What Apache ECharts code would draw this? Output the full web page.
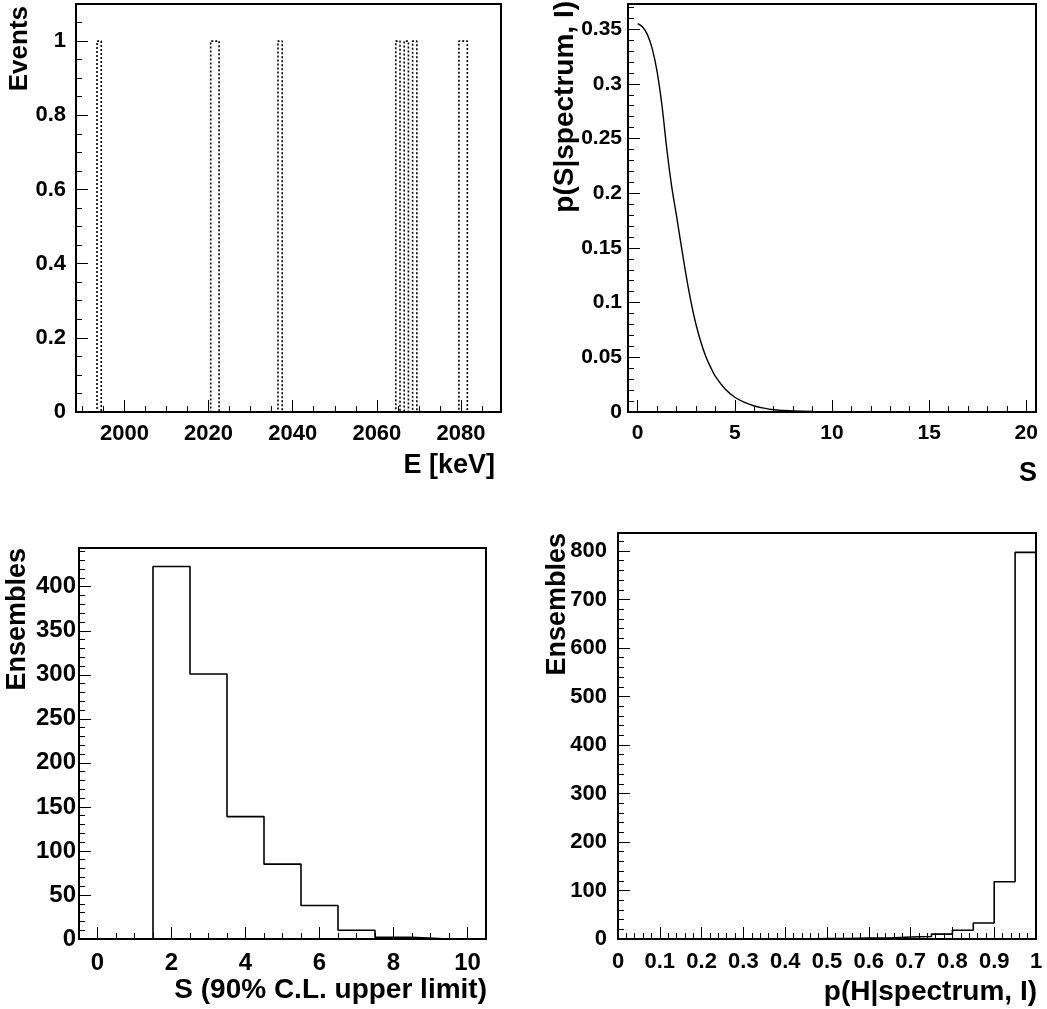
<!DOCTYPE html>
<html><head><meta charset="utf-8">
<script src="https://cdn.jsdelivr.net/npm/echarts@6/dist/echarts.min.js"></script>
<style>html,body{margin:0;padding:0;background:#fff}#c{width:1047px;height:1009px}</style>
</head><body><div id="c"></div>
<script>
// ---------- Panel 1: observed spectrum (1 keV bins) ----------
const energyMin = 1988.5;
const energyMax = 2089.5;
const energyBinWidth = 1;
const eventEnergies = [1994, 2021, 2022, 2037, 2065, 2067, 2069, 2080, 2081];

// ---------- Panel 2: posterior p(S|spectrum, I) ----------
const posteriorS = [0, 0.25, 0.5, 0.75, 1.0, 1.25, 1.5, 1.75, 2.0, 2.25, 2.5, 2.75, 3.0, 3.25, 3.5, 3.75, 4.0, 4.5, 5.0, 5.5, 6.0, 6.5, 7.0, 7.5, 8.0, 9.0, 10, 11, 12, 14, 17, 20];
const posteriorP = [0.355, 0.352, 0.345, 0.332, 0.311, 0.280, 0.240, 0.206, 0.179, 0.151, 0.124, 0.100, 0.080, 0.064, 0.051, 0.041, 0.0325, 0.021, 0.0135, 0.0087, 0.0055, 0.0035, 0.0021, 0.0014, 0.0009, 0.0004, 0.00015, 0.00005, 0.00002, 0, 0, 0];

// ---------- Panel 3: 90% C.L. upper limit distribution ----------
const ulBinCenters = [0, 1, 2, 3, 4, 5, 6, 7, 8, 9, 10];
const ulCounts = [0, 0, 423, 301, 139, 85, 38, 10, 2, 0, 0];

// ---------- Panel 4: p(H|spectrum, I) distribution ----------
const pHBinLowEdges = [0, 0.05, 0.1, 0.15, 0.2, 0.25, 0.3, 0.35, 0.4, 0.45, 0.5, 0.55, 0.6, 0.65, 0.7, 0.75, 0.8, 0.85, 0.9, 0.95];
const pHCounts = [0, 0, 0, 0, 0, 0, 0, 0, 0, 1, 1, 2, 2, 4, 5, 10, 18, 33, 118, 797];

// Axis titles
const titles = {
  p1x: 'E [keV]', p1y: 'Events',
  p2x: 'S', p2y: 'p(S|spectrum, I)',
  p3x: 'S (90% C.L. upper limit)', p3y: 'Ensembles',
  p4x: 'p(H|spectrum, I)', p4y: 'Ensembles'
};

// ---------- helpers ----------
function stepOutline(lows, width, counts) {
  const pts = [];
  for (let i = 0; i < lows.length; i++) {
    pts.push([lows[i], counts[i]]);
    pts.push([lows[i] + width, counts[i]]);
  }
  return pts;
}
const energyLows = [], energyCounts = [];
for (let e = energyMin; e < energyMax - 1e-9; e += energyBinWidth) {
  energyLows.push(e);
  energyCounts.push(eventEnergies.filter(v => v >= e && v < e + energyBinWidth).length);
}
const ulLows = ulBinCenters.map(c => c - 0.5);

const FONT = '"Liberation Sans", Arial, Helvetica, sans-serif';
const grids = [
  {left: 76, top: 4, width: 425, height: 408},
  {left: 628, top: 4, width: 408, height: 408},
  {left: 79, top: 548, width: 407, height: 391},
  {left: 618, top: 533, width: 418, height: 406}
];
const axCfg = [
  {x: [energyMin, energyMax, 20, 5], y: [0, 1.1, 0.2, 0.05], xMinL: false, xMaxL: false, xm: 11, ym: 10, fs: 22},
  {x: [-0.5, 20.5, 5, 1], y: [0, 0.373, 0.05, 0.01], xMinL: false, xMaxL: false, xm: 11, ym: 6, fs: 21},
  {x: [-0.5, 10.5, 2, 0.5], y: [0, 444, 50, 10], xMinL: false, xMaxL: false, xm: 12, ym: 3, fs: 24},
  {x: [0, 1, 0.1, 0.02], y: [0, 837, 100, 20], xMinL: true, xMaxL: true, xm: 12, ym: 11, fs: 22}
];
const fmt = v => String(+(+v).toFixed(6));
const xAxes = [], yAxes = [];
axCfg.forEach((c, g) => {
  const lbl = (m, showMin, showMax) => ({show: true, margin: m, color: '#000', fontSize: c.fs, fontWeight: 'bold', fontFamily: FONT, showMinLabel: showMin, showMaxLabel: showMax, formatter: fmt});
  xAxes.push({type: 'value', gridIndex: g, position: 'bottom', min: c.x[0], max: c.x[1], minInterval: c.x[2], maxInterval: c.x[2], splitNumber: Math.round((c.x[1]-c.x[0])/c.x[2]),
    axisLine: {show: true, onZero: false, lineStyle: {color: '#000', width: 2}},
    axisTick: {show: true, inside: true, length: 12, lineStyle: {color: '#000', width: 1}},
    axisLabel: lbl(c.xm, c.xMinL, c.xMaxL), splitLine: {show: false}});
  xAxes.push({type: 'value', gridIndex: g, position: 'bottom', min: c.x[0], max: c.x[1], minInterval: c.x[3], maxInterval: c.x[3], splitNumber: Math.round((c.x[1]-c.x[0])/c.x[3]),
    axisLine: {show: false, onZero: false},
    axisTick: {show: true, inside: true, length: 6, lineStyle: {color: '#000', width: 1}},
    axisLabel: {show: false}, splitLine: {show: false}});
  yAxes.push({type: 'value', gridIndex: g, position: 'left', min: c.y[0], max: c.y[1], minInterval: c.y[2], maxInterval: c.y[2], splitNumber: Math.round((c.y[1]-c.y[0])/c.y[2]),
    axisLine: {show: true, onZero: false, lineStyle: {color: '#000', width: 2}},
    axisTick: {show: true, inside: true, length: 12, lineStyle: {color: '#000', width: 1}},
    axisLabel: lbl(c.ym, true, false), splitLine: {show: false}});
  yAxes.push({type: 'value', gridIndex: g, position: 'left', min: c.y[0], max: c.y[1], minInterval: c.y[3], maxInterval: c.y[3], splitNumber: Math.round((c.y[1]-c.y[0])/c.y[3]),
    axisLine: {show: false, onZero: false},
    axisTick: {show: true, inside: true, length: 6, lineStyle: {color: '#000', width: 1}},
    axisLabel: {show: false}, splitLine: {show: false}});
});

const lineBase = {type: 'line', showSymbol: false, symbol: 'none', animation: false, silent: true, clip: true};
const series = [
  Object.assign({}, lineBase, {name: 'Events', xAxisIndex: 0, yAxisIndex: 0,
    data: stepOutline(energyLows, energyBinWidth, energyCounts),
    lineStyle: {color: '#000', width: 1.6, type: [2, 2]}}),
  Object.assign({}, lineBase, {name: 'posterior', xAxisIndex: 2, yAxisIndex: 2,
    data: posteriorS.map((s, i) => [s, posteriorP[i]]), smooth: 0.35,
    lineStyle: {color: '#000', width: 1.4}}),
  Object.assign({}, lineBase, {name: 'upper limit', xAxisIndex: 4, yAxisIndex: 4,
    data: stepOutline(ulLows, 1, ulCounts), lineStyle: {color: '#000', width: 1.6}}),
  Object.assign({}, lineBase, {name: 'p(H)', xAxisIndex: 6, yAxisIndex: 6,
    data: stepOutline(pHBinLowEdges, 0.05, pHCounts), lineStyle: {color: '#000', width: 1.6}})
];

function tText(text, x, y, rot, size) {
  return {type: 'text', x: x, y: y, rotation: rot ? Math.PI / 2 : 0, silent: true,
    style: {text: text, fill: '#000', font: 'bold ' + size + 'px ' + FONT,
      align: 'right', textAlign: 'right', verticalAlign: 'middle', textVerticalAlign: 'middle'}};
}
const graphics = [
  tText(titles.p1x, 495, 466, false, 27), tText(titles.p1y, 20, 6, true, 26),
  tText(titles.p2x, 1037, 474, false, 27), tText(titles.p2y, 565, 1, true, 28),
  tText(titles.p3x, 487, 990, false, 28), tText(titles.p3y, 18, 548, true, 27),
  tText(titles.p4x, 1037, 992, false, 28), tText(titles.p4y, 558, 533, true, 27)
];

const chart = echarts.init(document.getElementById('c'), null, {renderer: 'canvas'});
chart.setOption({
  backgroundColor: '#fff',
  animation: false,
  grid: grids.map(g => Object.assign({show: true, borderColor: '#000', borderWidth: 2, backgroundColor: 'transparent', containLabel: false}, g)),
  xAxis: xAxes,
  yAxis: yAxes,
  series: series,
  graphic: graphics
});
</script></body></html>
